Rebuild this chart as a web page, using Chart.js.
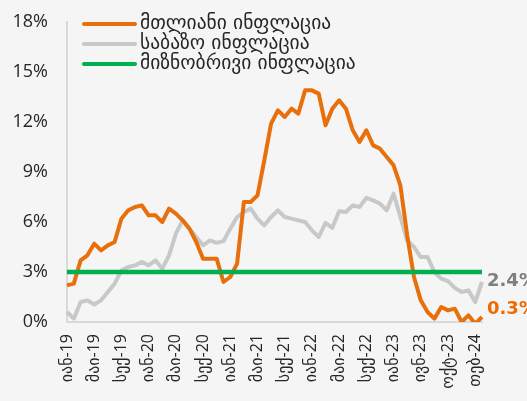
<!DOCTYPE html>
<html>
<head>
<meta charset="utf-8">
<script src="https://cdn.jsdelivr.net/npm/chart.js@4.4.0/dist/chart.umd.min.js"></script>
<style>
  html, body { margin: 0; padding: 0; background: #f5f5f5; }
</style>
</head>
<body>
<canvas id="graficoInflacion" width="527" height="401"></canvas>
<script>
// meses: იან-19 ... თებ-24
const meses = [
  'იან-19','თებ-19','მარ-19','აპრ-19','მაი-19','ივნ-19','ივლ-19','აგვ-19','სექ-19','ოქტ-19','ნოე-19','დეკ-19',
  'იან-20','თებ-20','მარ-20','აპრ-20','მაი-20','ივნ-20','ივლ-20','აგვ-20','სექ-20','ოქტ-20','ნოე-20','დეკ-20',
  'იან-21','თებ-21','მარ-21','აპრ-21','მაი-21','ივნ-21','ივლ-21','აგვ-21','სექ-21','ოქტ-21','ნოე-21','დეკ-21',
  'იან-22','თებ-22','მარ-22','აპრ-22','მაი-22','ივნ-22','ივლ-22','აგვ-22','სექ-22','ოქტ-22','ნოე-22','დეკ-22',
  'იან-23','თებ-23','მარ-23','აპრ-23','მაი-23','ივნ-23','ივლ-23','აგვ-23','სექ-23','ოქტ-23','ნოე-23','დეკ-23',
  'იან-24','თებ-24'
];

// etiquetas visibles del eje x (cada 4 meses, tal como aparecen)
const etiquetasEje = [
  'იან-19','მაი-19','სექ-19','იან-20','მაი-20','სექ-20','იან-21','მაი-21',
  'სექ-21','იან-22','მაი-22','სექ-22','იან-23','ივნ-23','ოქტ-23','თებ-24'
];

const nombresSeries = ['მთლიანი ინფლაცია', 'საბაზო ინფლაცია', 'მიზნობრივი ინფლაცია'];

// მთლიანი ინფლაცია
const inflacionTotal = [
  2.2, 2.3, 3.7, 4.0, 4.7, 4.3, 4.6, 4.8, 6.2, 6.7, 6.9, 7.0,
  6.4, 6.4, 6.0, 6.8, 6.5, 6.1, 5.6, 4.8, 3.8, 3.8, 3.8, 2.4,
  2.7, 3.5, 7.2, 7.2, 7.6, 9.7, 11.9, 12.7, 12.3, 12.8, 12.5, 13.9,
  13.9, 13.7, 11.8, 12.8, 13.3, 12.8, 11.5, 10.8, 11.5, 10.6, 10.4, 9.9,
  9.4, 8.2, 5.2, 2.7, 1.3, 0.6, 0.2, 0.9, 0.7, 0.8, 0.0, 0.4,
  -0.1, 0.3
];

// საბაზო ინფლაცია
const inflacionBase = [
  0.6, 0.2, 1.2, 1.3, 1.05, 1.3, 1.8, 2.3, 3.1, 3.3, 3.4, 3.6,
  3.4, 3.7, 3.2, 4.0, 5.3, 6.1, 5.6, 5.1, 4.6, 4.9, 4.75, 4.85,
  5.6, 6.3, 6.6, 6.8, 6.2, 5.8, 6.3, 6.7, 6.3, 6.2, 6.1, 6.0,
  5.5, 5.1, 5.95, 5.65, 6.65, 6.6, 7.0, 6.9, 7.45, 7.3, 7.1, 6.7,
  7.7, 6.3, 4.9, 4.5, 3.9, 3.9, 3.0, 2.6, 2.45, 2.05, 1.8, 1.9,
  1.2, 2.4
];

// მიზნობრივი ინფლაცია (3%)
const inflacionMeta = [
  3, 3, 3, 3, 3, 3, 3, 3, 3, 3, 3, 3,
  3, 3, 3, 3, 3, 3, 3, 3, 3, 3, 3, 3,
  3, 3, 3, 3, 3, 3, 3, 3, 3, 3, 3, 3,
  3, 3, 3, 3, 3, 3, 3, 3, 3, 3, 3, 3,
  3, 3, 3, 3, 3, 3, 3, 3, 3, 3, 3, 3,
  3, 3
];

const colores = ['#E8700C', '#C8C8C8', '#00B050'];
const fuente = "'DejaVu Sans', sans-serif";
const fuenteNumeros = "'Open Sans', 'DejaVu Sans', sans-serif";

// leyenda dentro del área del gráfico
const leyendaPlugin = {
  id: 'leyendaInterna',
  afterDraw(chart) {
    const ctx = chart.ctx;
    const area = chart.chartArea;
    ctx.save();
    ctx.font = '19.5px ' + fuente;
    ctx.textBaseline = 'middle';
    nombresSeries.forEach((nombre, i) => {
      const y = area.top + 2 + i * 20;
      ctx.strokeStyle = colores[i];
      ctx.lineWidth = 4;
      ctx.lineCap = 'round';
      ctx.beginPath();
      ctx.moveTo(area.left + 17, y);
      ctx.lineTo(area.left + 68, y);
      ctx.stroke();
      ctx.fillStyle = '#262626';
      ctx.fillText(nombre, area.left + 73, y);
    });
    ctx.restore();
  }
};

// valores finales a la derecha
const etiquetasFinalesPlugin = {
  id: 'etiquetasFinales',
  afterDraw(chart) {
    const ctx = chart.ctx;
    const yScale = chart.scales.y;
    const x = chart.chartArea.right + 5;
    ctx.save();
    ctx.font = 'bold 18px ' + fuente;
    ctx.textBaseline = 'middle';
    ctx.textAlign = 'left';
    const ultimoBase = inflacionBase[inflacionBase.length - 1];
    const ultimoTotal = inflacionTotal[inflacionTotal.length - 1];
    ctx.fillStyle = '#7F7F7F';
    ctx.fillText(ultimoBase.toFixed(1) + '%', x, yScale.getPixelForValue(ultimoBase) - 1);
    ctx.fillStyle = '#F06A00';
    ctx.fillText(ultimoTotal.toFixed(1) + '%', x, yScale.getPixelForValue(ultimoTotal) - 8);
    ctx.restore();
  }
};

const ctx = document.getElementById('graficoInflacion').getContext('2d');
window.graficoInflacion = new Chart(ctx, {
  type: 'line',
  data: {
    labels: meses,
    datasets: [
      {
        label: nombresSeries[2],
        data: inflacionMeta,
        borderColor: colores[2],
        borderWidth: 4.5,
        pointRadius: 0,
        order: 0
      },
      {
        label: nombresSeries[0],
        data: inflacionTotal,
        borderColor: colores[0],
        borderWidth: 4,
        borderJoinStyle: 'round',
        pointRadius: 0,
        order: 1
      },
      {
        label: nombresSeries[1],
        data: inflacionBase,
        borderColor: colores[1],
        borderWidth: 4,
        borderJoinStyle: 'round',
        pointRadius: 0,
        order: 2
      }
    ]
  },
  options: {
    responsive: false,
    animation: false,
    layout: {
      padding: { left: 0, right: 45, top: 22, bottom: 0 }
    },
    plugins: {
      legend: { display: false },
      tooltip: { enabled: false }
    },
    scales: {
      x: {
        grid: { display: false, drawTicks: false },
        border: { display: true, color: '#D9D9D9', width: 2 },
        ticks: {
          autoSkip: false,
          maxRotation: 90,
          minRotation: 90,
          padding: 12,
          color: '#262626',
          font: { family: fuenteNumeros, size: 16 },
          callback: function(valor, indice) {
            return indice % 4 === 0 ? etiquetasEje[indice / 4] : null;
          }
        },
        afterFit: function(scale) {
          scale.height = 79;
          scale.paddingLeft = 0;
          scale.paddingRight = 0;
        }
      },
      y: {
        min: 0,
        max: 18,
        grid: { display: false, drawTicks: false },
        border: { display: true, color: '#D9D9D9', width: 2 },
        ticks: {
          stepSize: 3,
          padding: 19,
          color: '#262626',
          font: { family: fuenteNumeros, size: 18 },
          callback: function(valor) {
            return valor + '%';
          }
        },
        afterFit: function(scale) {
          scale.width = 67;
          scale.paddingTop = 0;
          scale.paddingBottom = 0;
        }
      }
    }
  },
  plugins: [leyendaPlugin, etiquetasFinalesPlugin]
});
</script>
</body>
</html>
